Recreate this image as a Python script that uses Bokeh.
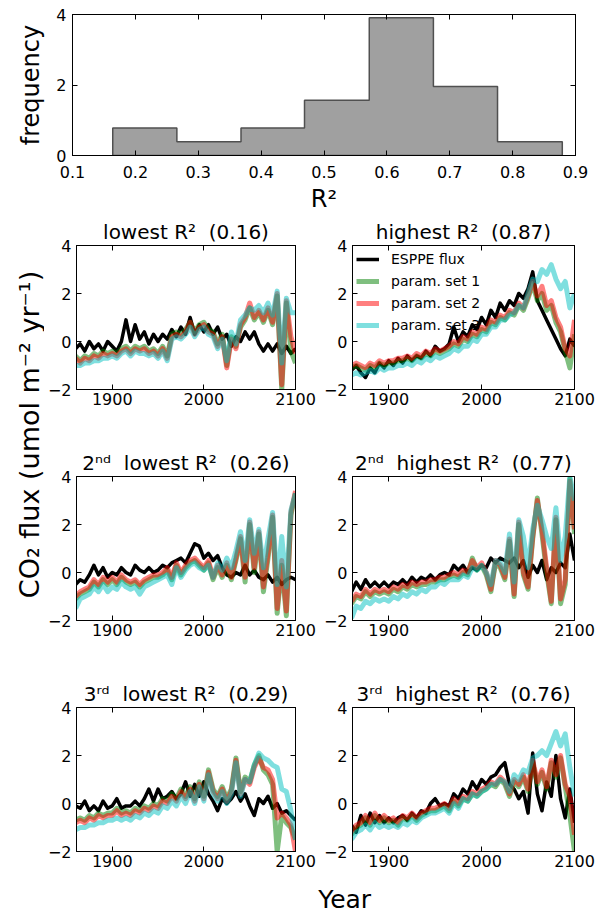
import math
from bokeh.plotting import figure
from bokeh.models import Range1d, FixedTicker, LinearAxis, Label
from bokeh.layouts import column, row
from bokeh.embed import file_html
from bokeh.resources import INLINE

FONT = "DejaVu Sans"

# ---------------- histogram data ----------------
HIST_EDGES = [0.164, 0.266, 0.368, 0.469, 0.572, 0.674, 0.776, 0.879]
HIST_DENSITY = [0.78, 0.39, 0.78, 1.57, 3.91, 1.96, 0.39]
HIST_XTICKS = [0.1, 0.2, 0.3, 0.4, 0.5, 0.6, 0.7, 0.8, 0.9]
HIST_YTICKS = [0, 2, 4]

# ---------------- time series data ----------------
YEARS = list(range(1860, 2101, 5))
XTICKS = [1900, 2000, 2100]
YTICKS = [-2, 0, 2, 4]

TITLES = ["lowest R²\u00a0 (0.16)", "highest R²\u00a0 (0.87)",
          "2ⁿᵈ\u00a0 lowest R²\u00a0 (0.26)", "2ⁿᵈ\u00a0 highest R²\u00a0 (0.77)",
          "3ʳᵈ\u00a0 lowest R²\u00a0 (0.29)", "3ʳᵈ\u00a0 highest R²\u00a0 (0.76)"]
LEGEND_LABELS = ["ESPPE flux", "param. set 1", "param. set 2", "param. set 3"]

# panel 1: lowest R2
P1_ESPPE = [-0.3, -0.1, -0.4, 0.0, -0.3, -0.1, -0.4, 0.0, -0.2, -0.4,
            0.0, 0.9, 0.0, 0.7, 0.1, 0.4, -0.1, 0.3, 0.0, 0.3,
            0.1, 0.5, 0.2, 0.6, 0.3, 1.0, 0.3, 0.7, 0.4, 0.7,
            0.3, 0.6, 0.1, 0.3, -0.2, 0.2, 0.0, 0.4, 0.1, 0.4,
            -0.1, -0.4, -0.1, -0.4, -0.1, -0.5, -0.2, -0.5, -0.3]
P1_SET1 = [-0.6, -0.8, -0.6, -0.7, -0.5, -0.6, -0.4, -0.5, -0.4, -0.5,
           -0.3, -0.2, -0.4, -0.2, -0.3, -0.2, -0.4, -0.3, -0.5, -0.2,
           -0.6, 0.3, 0.4, 0.3, 0.5, 0.8, 0.4, 0.7, 0.8, 0.5,
           0.4, -0.1, 0.3, -1.0, 0.2, -0.2, 0.6, 0.9, 1.4, 0.9,
           1.2, 0.8, 1.3, 0.7, 1.9, -2.0, 1.6, -0.4, -0.9]
P1_SET2 = [-0.7, -0.9, -0.7, -0.8, -0.6, -0.7, -0.5, -0.6, -0.5, -0.6,
           -0.4, -0.3, -0.5, -0.3, -0.4, -0.3, -0.5, -0.4, -0.6, -0.3,
           -0.7, 0.2, 0.3, 0.2, 0.4, 0.8, 0.3, 0.6, 0.7, 0.4,
           0.3, -0.2, 0.2, -1.1, 0.1, -0.3, 0.7, 1.0, 1.6, 1.0,
           1.3, 0.9, 1.4, 0.8, 2.0, -1.8, 1.7, 0.2, -0.5]
P1_SET3 = [-1.0, -1.0, -0.9, -0.9, -0.8, -0.8, -0.7, -0.7, -0.6, -0.7,
           -0.5, -0.4, -0.6, -0.4, -0.5, -0.5, -0.6, -0.5, -0.7, -0.4,
           -0.8, 0.1, 0.2, 0.1, 0.3, 0.6, 0.2, 0.5, 0.6, 0.3,
           0.2, -0.3, 0.1, -0.8, 0.4, -0.1, 0.9, 1.1, 1.4, 1.3,
           1.5, 1.2, 1.6, 1.1, 2.1, -0.9, 1.8, 1.2, 1.2]

# panel 2: highest R2
P2_ESPPE = [-1.2, -1.0, -1.3, -1.5, -1.1, -1.3, -0.9, -1.1, -0.8, -1.0,
            -0.7, -0.9, -0.6, -0.8, -0.6, -0.7, -0.4, -0.6, -0.2, -0.4,
            -0.3, -0.1, 0.6, 0.0, 0.4, 0.2, 0.7, 0.5, 1.0, 0.7,
            1.3, 1.0, 1.6, 1.3, 1.7, 1.5, 2.0, 1.8, 2.2, 2.9,
            1.7, 1.3, 0.9, 0.5, 0.1, -0.3, -0.6, 0.1, -0.2]
P2_SET1 = [-1.1, -1.0, -1.1, -1.2, -1.0, -1.1, -0.9, -1.0, -0.9, -0.9,
           -0.8, -0.8, -0.7, -0.8, -0.6, -0.7, -0.5, -0.6, -0.4, -0.5,
           -0.4, -0.3, -0.1, -0.2, 0.1, 0.0, 0.3, 0.2, 0.5, 0.4,
           0.8, 0.7, 1.0, 0.9, 1.2, 1.1, 1.5, 1.3, 1.8, 2.4,
           1.7, 2.0, 1.3, 1.5, 0.8, 0.4, -0.4, -1.1, 0.3]
P2_SET2 = [-1.0, -0.9, -1.0, -1.1, -0.9, -1.0, -0.8, -0.9, -0.8, -0.8,
           -0.7, -0.7, -0.6, -0.7, -0.5, -0.6, -0.4, -0.5, -0.3, -0.4,
           -0.3, -0.2, 0.0, -0.1, 0.2, 0.1, 0.4, 0.3, 0.6, 0.5,
           0.9, 0.8, 1.1, 1.0, 1.3, 1.2, 1.6, 1.4, 1.9, 2.5,
           1.9, 2.3, 1.5, 1.7, 1.0, 0.6, -0.3, -0.6, 0.9]
P2_SET3 = [-1.4, -1.3, -1.4, -1.3, -1.2, -1.3, -1.1, -1.2, -1.1, -1.1,
           -1.0, -1.0, -0.9, -1.0, -0.8, -0.9, -0.7, -0.8, -0.6, -0.7,
           -0.6, -0.5, -0.3, -0.4, -0.2, -0.2, 0.1, 0.0, 0.3, 0.3,
           0.6, 0.6, 0.9, 0.9, 1.1, 1.2, 1.5, 1.4, 2.0, 2.6,
           2.5, 3.0, 2.8, 3.2, 2.6, 2.2, 2.5, 1.4, 2.0]

# panel 3: 2nd lowest R2
P3_ESPPE = [-0.5, -0.3, -0.4, -0.1, 0.3, -0.1, 0.2, -0.2, 0.0, -0.1,
            0.2, 0.0, -0.1, 0.3, 0.1, 0.0, 0.2, 0.0, 0.1, 0.3,
            0.2, 0.4, 0.5, 0.6, 0.4, 0.8, 1.2, 1.1, 0.6, 0.8,
            0.5, 0.7, 0.2, -0.1, -0.2, 0.0, -0.1, 0.3, -0.1, 0.1,
            -0.2, -0.3, -0.1, -0.4, -0.2, -0.5, -0.3, -0.2, -0.3]
P3_SET1 = [-1.1, -0.9, -0.8, -0.7, -0.4, -0.6, -0.3, -0.5, -0.3, -0.5,
           -0.2, -0.4, -0.5, -0.4, -0.6, -0.4, -0.3, -0.2, -0.2, -0.1,
           0.1, -0.3, 0.3, -0.1, 0.2, 0.4, 0.5, 0.3, 0.1, 0.4,
           -0.3, 0.2, -0.2, 0.3, -0.3, 0.5, 1.4, -0.4, 2.0, 0.0,
           1.6, -0.8, 0.6, 2.3, -1.7, 0.3, -1.8, 2.4, 3.3]
P3_SET2 = [-1.0, -0.8, -0.7, -0.6, -0.3, -0.5, -0.2, -0.4, -0.2, -0.4,
           -0.1, -0.3, -0.4, -0.3, -0.5, -0.3, -0.2, -0.1, -0.1, 0.0,
           0.2, -0.2, 0.4, 0.0, 0.3, 0.5, 0.6, 0.4, 0.2, 0.5,
           -0.2, 0.3, -0.1, 0.4, -0.2, 0.6, 1.5, -0.2, 2.1, 0.2,
           1.7, -0.6, 0.8, 2.4, -1.5, 0.5, -1.6, 2.5, 3.4]
P3_SET3 = [-1.5, -1.1, -1.0, -0.9, -0.6, -0.8, -0.5, -0.8, -0.6, -0.7,
           -0.4, -0.6, -0.7, -0.6, -0.9, -0.6, -0.5, -0.4, -0.3, -0.2,
           -0.1, -0.5, 0.2, -0.2, 0.1, 0.3, 0.4, 0.2, 0.1, 0.3,
           -0.2, 0.4, 0.1, 0.6, 0.2, 0.9, 1.7, 0.5, 2.2, 0.8,
           1.8, 0.2, 1.4, 2.5, -0.5, 1.5, -0.6, 2.6, 3.3]

# panel 4: 2nd highest R2
P4_ESPPE = [-0.8, -0.4, -0.7, -0.3, -0.6, -0.4, -0.6, -0.4, -0.6, -0.4,
            -0.5, -0.3, -0.5, -0.2, -0.4, -0.2, -0.3, -0.1, -0.3, -0.1,
            0.0, -0.1, 0.3, 0.1, 0.3, 0.0, 0.2, 0.1, 0.3, 0.2,
            0.6, 0.4, 0.6, 0.5, 0.4, 0.6, 0.2, 0.5, -0.2, 0.3,
            0.0, 0.5, -0.3, 0.2, 0.0, 0.4, 0.2, 1.6, 0.5]
P4_SET1 = [-1.3, -1.0, -1.1, -0.8, -1.0, -0.8, -0.9, -0.8, -0.9, -0.7,
           -0.8, -0.6, -0.7, -0.5, -0.6, -0.5, -0.5, -0.4, -0.4, -0.3,
           -0.3, -0.2, -0.1, -0.2, 0.0, -0.1, 0.6, 0.1, 0.3, -0.1,
           -0.8, 0.4, 0.2, -0.3, 1.3, -1.0, 2.0, -0.1, -0.7, 1.4,
           3.1, 1.6, 0.0, -1.3, 2.2, -1.3, -0.5, 3.9, 1.6]
P4_SET2 = [-1.2, -0.9, -1.0, -0.7, -0.9, -0.7, -0.8, -0.7, -0.8, -0.6,
           -0.7, -0.5, -0.6, -0.4, -0.5, -0.4, -0.4, -0.3, -0.3, -0.2,
           -0.2, -0.1, 0.0, -0.1, 0.1, 0.0, 0.5, 0.2, 0.4, 0.0,
           -0.7, 0.5, 0.3, -0.2, 1.4, -0.9, 2.1, 0.0, -0.6, 1.5,
           3.0, 1.8, 0.2, -1.2, 2.3, -1.1, -0.3, 3.8, 1.8]
P4_SET3 = [-1.9, -1.4, -1.5, -1.2, -1.3, -1.1, -1.2, -1.1, -1.2, -1.0,
           -1.1, -0.9, -1.0, -0.8, -0.9, -0.7, -0.8, -0.6, -0.6, -0.4,
           -0.5, -0.3, -0.3, -0.3, -0.1, -0.2, 0.2, 0.1, 0.3, 0.0,
           -0.5, 0.5, 0.4, 0.0, 1.6, -0.4, 2.2, 1.5, 0.2, 1.8,
           2.8, 2.2, 1.5, 1.0, 2.7, 0.5, 1.5, 4.0, 3.0]

# panel 5: 3rd lowest R2
P5_ESPPE = [-0.1, -0.2, 0.1, -0.3, -0.1, -0.3, 0.1, -0.2, -0.1, 0.2,
            -0.2, -0.1, -0.1, 0.1, -0.1, 0.2, 0.6, 0.1, 0.6, 0.2,
            0.3, 0.5, 0.2, 0.4, 0.9, 0.3, 0.8, 0.3, 0.9, 0.4,
            0.1, -0.3, 0.2, 0.0, 0.2, 0.5, 0.1, 0.4, -0.1, -0.5,
            0.2, 0.0, 0.3, -0.2, 0.0, -0.4, -0.3, -0.5, -0.7]
P5_SET1 = [-0.7, -0.6, -0.7, -0.5, -0.6, -0.4, -0.5, -0.4, -0.4, -0.2,
           -0.4, -0.3, -0.4, -0.2, -0.3, -0.1, -0.2, 0.0, -0.1, 0.2,
           0.1, 0.4, 0.2, 0.6, 0.3, 0.7, 0.2, 0.9, 0.3, 1.4,
           0.6, 0.3, 0.7, 0.2, 0.6, 1.9, 0.5, 1.1, 0.9, 1.6,
           2.0, 1.4, 1.2, 0.8, -2.0, -0.5, -0.8, -1.0, -1.5]
P5_SET2 = [-0.8, -0.7, -0.8, -0.6, -0.7, -0.5, -0.6, -0.5, -0.5, -0.3,
           -0.5, -0.4, -0.5, -0.3, -0.4, -0.2, -0.3, -0.1, -0.2, 0.1,
           0.0, 0.3, 0.1, 0.5, 0.2, 0.6, 0.1, 0.8, 0.2, 1.3,
           0.5, 0.2, 0.6, 0.1, 0.5, 1.8, 0.4, 1.0, 0.8, 1.5,
           1.9, 1.5, 1.4, 1.0, -0.6, -0.4, -0.6, -0.9, -2.0]
P5_SET3 = [-1.1, -1.0, -1.0, -0.9, -0.9, -0.8, -0.8, -0.7, -0.7, -0.6,
           -0.7, -0.6, -0.7, -0.5, -0.6, -0.4, -0.5, -0.3, -0.4, -0.1,
           -0.2, 0.1, -0.1, 0.3, 0.0, 0.5, 0.0, 0.7, 0.1, 1.2,
           0.4, 0.1, 0.5, 0.0, 0.4, 1.7, 0.3, 1.0, 0.9, 1.6,
           2.1, 1.9, 1.8, 1.6, 1.5, 0.6, 0.5, -0.3, -1.5]

# panel 6: 3rd highest R2
P6_ESPPE = [-0.9, -1.2, -0.5, -0.9, -0.4, -0.8, -0.5, -0.8, -0.6, -0.8,
            -0.6, -0.5, -0.7, -0.4, -0.6, -0.3, -0.4, 0.0, 0.2, -0.1,
            0.0, -0.1, 0.4, 0.2, 0.6, 0.4, 0.9, 0.6, 1.0, 0.8,
            1.1, 1.2, 1.5, 1.7, 0.8, 0.6, 0.2, 0.5, -0.4, 2.1,
            0.4, -0.3, 0.9, 0.3, 2.0, 0.2, -0.6, 0.6, -0.8]
P6_SET1 = [-1.3, -1.0, -0.9, -0.6, -0.9, -0.5, -0.8, -0.6, -0.8, -0.7,
           -0.9, -0.6, -0.7, -0.5, -0.7, -0.5, -0.4, -0.3, -0.3, -0.2,
           -0.1, -0.3, 0.1, -0.1, 0.2, 0.1, 0.4, 0.3, 0.5, 0.6,
           0.8, 0.7, 1.0, 0.8, 0.3, 0.9, 0.7, 1.1, 0.5, 1.7,
           0.8, 1.3, 0.6, 1.7, 1.1, 1.9, 0.7, -0.5, -2.0]
P6_SET2 = [-1.2, -0.9, -0.8, -0.5, -0.8, -0.4, -0.7, -0.5, -0.7, -0.6,
           -0.8, -0.5, -0.6, -0.4, -0.6, -0.4, -0.3, -0.2, -0.2, -0.1,
           0.0, -0.2, 0.2, 0.0, 0.3, 0.2, 0.5, 0.4, 0.6, 0.7,
           0.9, 0.8, 1.1, 0.9, 0.4, 1.0, 0.8, 1.2, 0.6, 1.8,
           0.9, 1.4, 0.7, 1.8, 1.2, 2.0, 0.8, 0.3, -1.3]
P6_SET3 = [-1.5, -1.2, -1.1, -0.9, -1.1, -0.8, -1.0, -0.9, -1.0, -0.9,
           -1.0, -0.8, -0.9, -0.7, -0.8, -0.6, -0.5, -0.4, -0.4, -0.3,
           -0.2, -0.4, 0.0, -0.2, 0.2, 0.1, 0.4, 0.3, 0.5, 0.6,
           0.8, 0.8, 1.0, 0.9, 0.5, 1.2, 1.0, 1.4, 1.3, 1.9,
           2.0, 2.2, 2.0, 2.5, 3.0, 2.4, 2.9, 1.5, 0.3]

PANELS = [
    (P1_ESPPE, P1_SET1, P1_SET2, P1_SET3),
    (P2_ESPPE, P2_SET1, P2_SET2, P2_SET3),
    (P3_ESPPE, P3_SET1, P3_SET2, P3_SET3),
    (P4_ESPPE, P4_SET1, P4_SET2, P4_SET3),
    (P5_ESPPE, P5_SET1, P5_SET2, P5_SET3),
    (P6_ESPPE, P6_SET1, P6_SET2, P6_SET3),
]
for i, series in enumerate(PANELS):
    for j, s in enumerate(series):
        if len(s) != len(YEARS):
            raise ValueError(f"panel {i+1} series {j} has {len(s)} values, expected {len(YEARS)}")

SERIES_COLORS = ["black", "#008000", "#ff0000", "#00bfbf"]
SERIES_WIDTHS = [3.5, 5, 5, 5]
SERIES_ALPHAS = [1.0, 0.5, 0.5, 0.5]


def style_axis(ax, size="16px", standoff=4):
    ax.major_tick_in = 5
    ax.major_tick_out = 0
    ax.minor_tick_line_color = None
    ax.axis_line_color = "black"
    ax.major_tick_line_color = "black"
    ax.major_label_text_font = FONT
    ax.major_label_text_font_size = size
    ax.major_label_text_color = "black"
    ax.major_label_standoff = standoff
    ax.axis_label_text_font = FONT
    ax.axis_label_text_font_style = "normal"
    ax.axis_label_text_color = "black"


def add_mirror_axes(p, xticks, yticks):
    for side, ticks in (("above", xticks), ("right", yticks)):
        ax = LinearAxis(ticker=FixedTicker(ticks=ticks))
        ax.major_tick_in = 5
        ax.major_tick_out = 0
        ax.minor_tick_line_color = None
        ax.axis_line_color = "black"
        ax.major_label_overrides = {t: "" for t in ticks}
        ax.major_label_text_font_size = "0px"
        ax.major_label_standoff = 0
        p.add_layout(ax, side)


def base_fig(**kw):
    p = figure(output_backend="svg", toolbar_location=None, **kw)
    p.grid.visible = False
    p.outline_line_color = "black"
    p.outline_line_width = 1
    p.background_fill_color = "white"
    p.border_fill_color = "white"
    return p


# ---------------- histogram ----------------
h = base_fig(width=597, height=215, x_range=Range1d(0.1, 0.9), y_range=Range1d(0, 4),
             min_border_left=72, min_border_right=22, min_border_top=14, min_border_bottom=59)
hx = [HIST_EDGES[0]]
hy = [0]
for i, d in enumerate(HIST_DENSITY):
    hx += [HIST_EDGES[i], HIST_EDGES[i + 1]]
    hy += [d, d]
hx.append(HIST_EDGES[-1])
hy.append(0)
h.patch(hx, hy, fill_color="#a0a0a0", line_color="#505050", line_width=1.5)
h.xaxis.ticker = FixedTicker(ticks=HIST_XTICKS)
h.yaxis.ticker = FixedTicker(ticks=HIST_YTICKS)
style_axis(h.xaxis[0], standoff=10)
style_axis(h.yaxis[0], standoff=6)
h.xaxis.axis_label = "R²"
h.yaxis.axis_label = "frequency"
h.xaxis.axis_label_text_font_size = "24px"
h.yaxis.axis_label_text_font_size = "24px"
h.xaxis.axis_label_standoff = 4
h.yaxis.axis_label_standoff = 8
add_mirror_axes(h, HIST_XTICKS, HIST_YTICKS)

# ---------------- panels ----------------
panels = []
for k, (title, series) in enumerate(zip(TITLES, PANELS)):
    left_col = (k % 2 == 0)
    last_row = (k >= 4)
    p = base_fig(width=273 if left_col else 280,
                 height=202 if last_row else 231,
                 x_range=Range1d(1861, 2100), y_range=Range1d(-2, 4),
                 min_border_left=28 if left_col else 35,
                 min_border_right=22 if left_col else 23,
                 min_border_top=30,
                 min_border_bottom=28 if last_row else 57,
                 title=title)
    p.title.text_font = FONT
    p.title.text_font_size = "20px"
    p.title.text_font_style = "normal"
    p.title.text_color = "black"
    p.title.align = "center"
    p.title.standoff = 3
    for j, s in enumerate(series):
        kw = {}
        if k == 1:
            kw["legend_label"] = LEGEND_LABELS[j]
        p.line(YEARS, s, line_color=SERIES_COLORS[j], line_width=SERIES_WIDTHS[j],
               line_alpha=SERIES_ALPHAS[j], line_join="round", **kw)
    p.xaxis.ticker = FixedTicker(ticks=XTICKS)
    p.yaxis.ticker = FixedTicker(ticks=YTICKS)
    style_axis(p.xaxis[0], standoff=3)
    style_axis(p.yaxis[0], standoff=5)
    add_mirror_axes(p, XTICKS, YTICKS)
    if k == 1:
        lg = p.legend[0]
        lg.location = "top_left"
        lg.background_fill_alpha = 0
        lg.border_line_alpha = 0
        lg.label_text_font = FONT
        lg.label_text_font_size = "14px"
        lg.label_text_color = "black"
        lg.glyph_width = 23
        lg.glyph_height = 20
        lg.label_height = 20
        lg.spacing = 2
        lg.padding = 4
        lg.margin = 0
        lg.label_standoff = 12
    panels.append(p)

# ---------------- shared labels ----------------
yl = figure(width=44, height=664, x_range=Range1d(0, 44), y_range=Range1d(0, 664),
            x_axis_type=None, y_axis_type=None, min_border=0,
            output_backend="svg", toolbar_location=None)
yl.outline_line_color = None
yl.add_layout(Label(x=29, y=445, text="CO₂ flux (umol m⁻² yr⁻¹)", angle=math.pi / 2,
                    text_align="center", text_baseline="middle",
                    text_font=FONT, text_font_size="27px", text_color="black"))

yf = figure(width=597, height=36, x_range=Range1d(0, 597), y_range=Range1d(0, 36),
            x_axis_type=None, y_axis_type=None, min_border=0,
            output_backend="svg", toolbar_location=None)
yf.outline_line_color = None
yf.add_layout(Label(x=323, y=16, text="Year", text_align="center", text_baseline="middle",
                    text_font=FONT, text_font_size="25px", text_color="black"))

grid = column(row(panels[0], panels[1]), row(panels[2], panels[3]), row(panels[4], panels[5]))
layout = column(h, row(yl, grid), yf)

open("out.html", "w").write(file_html(layout, INLINE))
